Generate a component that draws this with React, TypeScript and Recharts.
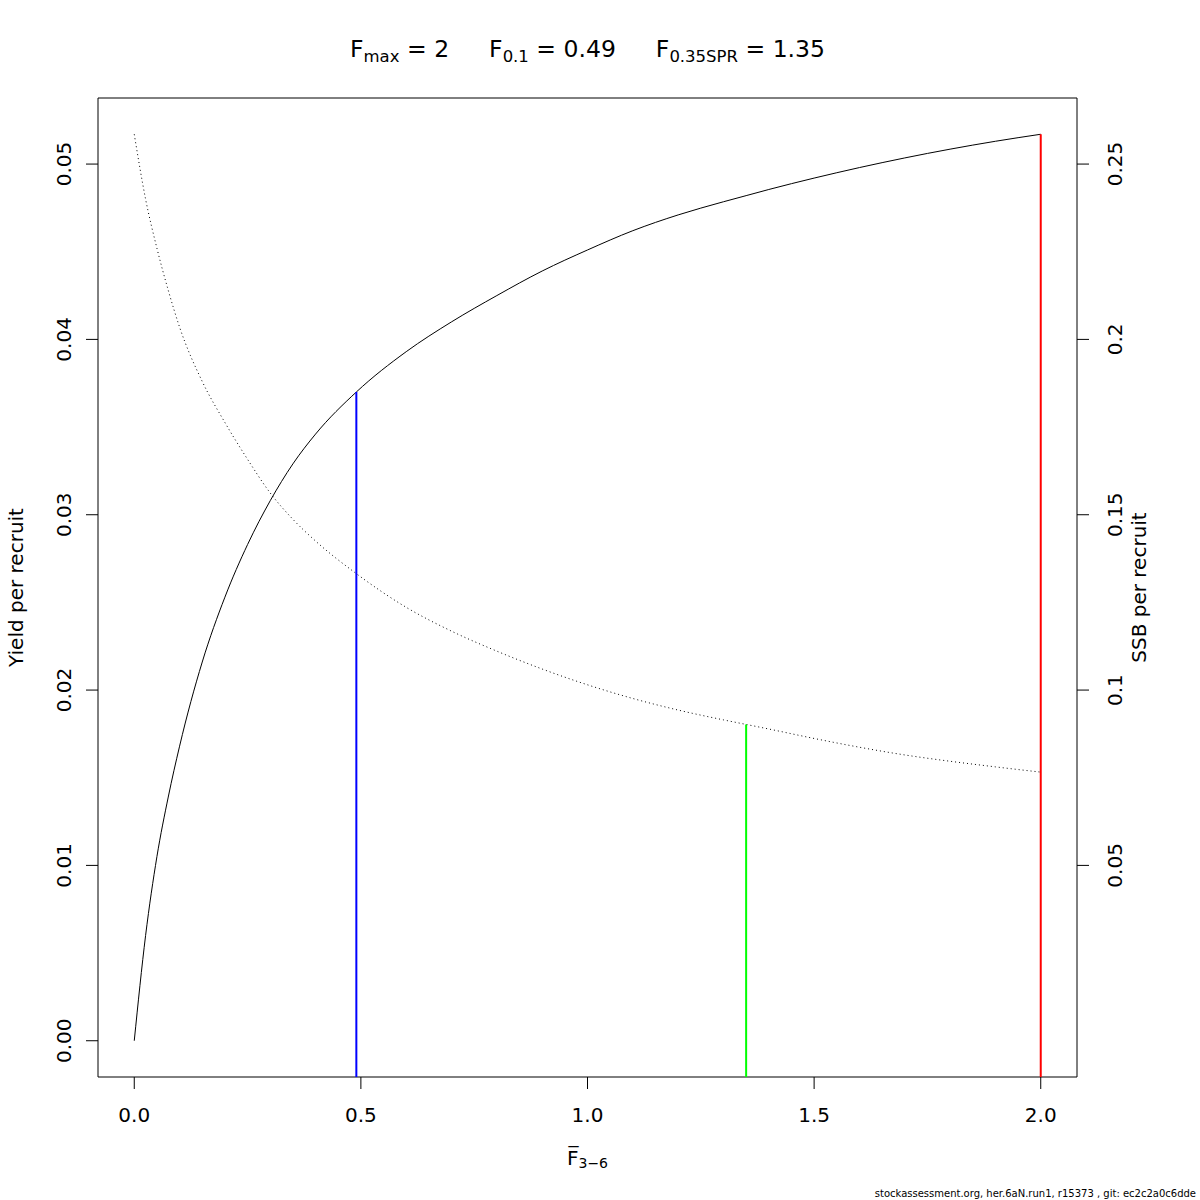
import React from 'react';
import { LineChart, Line, XAxis, YAxis, ReferenceLine, ReferenceArea } from 'recharts';

// fishing mortality grid and the per-recruit curves
const fbar = [0, 0.025, 0.05, 0.075, 0.1, 0.15, 0.2, 0.25, 0.3, 0.35, 0.4, 0.49, 0.6, 0.7, 0.8, 0.9, 1.0, 1.1, 1.2, 1.3, 1.35, 1.4, 1.5, 1.6, 1.7, 1.8, 1.9, 2.0];
const yieldPR = [0, 0.006, 0.0105, 0.0139, 0.0168, 0.0216, 0.0253, 0.0283, 0.0308, 0.0329, 0.0346, 0.037, 0.0393, 0.041, 0.0425, 0.0439, 0.0451, 0.0462, 0.0471, 0.04785, 0.0482, 0.04855, 0.0492, 0.0498, 0.05035, 0.05085, 0.0513, 0.0517];
const ssbPR = [0.2585, 0.24, 0.226, 0.214, 0.2035, 0.188, 0.1763, 0.1658, 0.1562, 0.1487, 0.1425, 0.1332, 0.1236, 0.1168, 0.1111, 0.106, 0.1015, 0.0976, 0.0943, 0.0915, 0.0902, 0.0889, 0.0862, 0.0837, 0.0815, 0.0797, 0.0781, 0.0766];

const fMax = 2;
const f01 = 0.49;
const f35spr = 1.35;

const xTicks = [0, 0.5, 1, 1.5, 2];
const xTickLabels = ['0.0', '0.5', '1.0', '1.5', '2.0'];
const yieldTicks = [0, 0.01, 0.02, 0.03, 0.04, 0.05];
const yieldTickLabels = ['0.00', '0.01', '0.02', '0.03', '0.04', '0.05'];
const ssbTicks = [0.05, 0.1, 0.15, 0.2, 0.25];
const ssbTickLabels = ['0.05', '0.1', '0.15', '0.2', '0.25'];

const data = fbar.map((f, i) => ({ f, yield: yieldPR[i], ssb: ssbPR[i] }));

const at = (arr: number[], f: number) => arr[fbar.indexOf(f)];

// R style 4% padding; the ssb axis is the yield axis rescaled so both maxima meet
const yMax = Math.max(...yieldPR);
const sMax = Math.max(...ssbPR);
const xDomain = [-0.08, 2.08];
const yDomain = [-0.04 * yMax, 1.04 * yMax];
const sDomain = [yDomain[0] * sMax / yMax, yDomain[1] * sMax / yMax];

const FONT = '"DejaVu Sans", sans-serif';
const PLOT_LEFT = 98;
const PLOT_RIGHT = 1077;
const PLOT_TOP = 98;
const PLOT_BOTTOM = 1077;

const XTick = (props: any) => {
  const i = xTicks.indexOf(props.payload.value);
  return (
    <text x={props.x} y={PLOT_BOTTOM + 45} textAnchor="middle" fontSize={20} fontFamily={FONT} fill="#000">
      {xTickLabels[i]}
    </text>
  );
};

const LeftTick = (props: any) => {
  const i = yieldTicks.indexOf(props.payload.value);
  const x = 71;
  return (
    <text x={x} y={props.y} transform={`rotate(-90, ${x}, ${props.y})`} textAnchor="middle" fontSize={20} fontFamily={FONT} fill="#000">
      {yieldTickLabels[i]}
    </text>
  );
};

const RightTick = (props: any) => {
  const i = ssbTicks.findIndex((t) => Math.abs(t - props.payload.value) < 1e-9);
  const x = 1122;
  return (
    <text x={x} y={props.y} transform={`rotate(-90, ${x}, ${props.y})`} textAnchor="middle" fontSize={20} fontFamily={FONT} fill="#000">
      {ssbTickLabels[i]}
    </text>
  );
};

export default function App() {
  const midX = (PLOT_LEFT + PLOT_RIGHT) / 2;
  const midY = (PLOT_TOP + PLOT_BOTTOM) / 2;
  return (
    <div style={{ position: 'absolute', top: 0, left: 0, width: 1200, height: 1200, background: '#fff' }}>
      <LineChart width={1200} height={1200} data={data} margin={{ top: PLOT_TOP, right: 0, bottom: 0, left: 0 }}>
        <XAxis
          dataKey="f"
          type="number"
          domain={xDomain}
          ticks={xTicks}
          height={1200 - PLOT_BOTTOM}
          axisLine={false}
          tickSize={12}
          tickLine={{ stroke: '#000' }}
          tick={<XTick />}
          interval={0}
        />
        <YAxis
          yAxisId="yield"
          type="number"
          domain={yDomain}
          ticks={yieldTicks}
          width={PLOT_LEFT}
          axisLine={false}
          tickSize={12}
          tickLine={{ stroke: '#000' }}
          tick={<LeftTick />}
          interval={0}
        />
        <YAxis
          yAxisId="ssb"
          orientation="right"
          type="number"
          domain={sDomain}
          ticks={ssbTicks}
          width={1200 - PLOT_RIGHT}
          axisLine={false}
          tickSize={12}
          tickLine={{ stroke: '#000' }}
          tick={<RightTick />}
          interval={0}
        />
        <ReferenceArea
          yAxisId="yield"
          x1={xDomain[0]}
          x2={xDomain[1]}
          y1={yDomain[0]}
          y2={yDomain[1]}
          fill="none"
          fillOpacity={0}
          stroke="#000"
          strokeWidth={1}
          ifOverflow="visible"
        />
        <Line yAxisId="yield" dataKey="yield" type="monotone" stroke="#000" strokeWidth={1} dot={false} isAnimationActive={false} />
        <Line yAxisId="ssb" dataKey="ssb" type="monotone" stroke="#000" strokeWidth={1} strokeDasharray="1 3" dot={false} isAnimationActive={false} />
        <ReferenceLine
          yAxisId="yield"
          segment={[{ x: f01, y: yDomain[0] }, { x: f01, y: at(yieldPR, f01) }]}
          stroke="#0000FF"
          strokeWidth={2}
          ifOverflow="visible"
        />
        <ReferenceLine
          yAxisId="ssb"
          segment={[{ x: f35spr, y: sDomain[0] }, { x: f35spr, y: at(ssbPR, f35spr) }]}
          stroke="#00FF00"
          strokeWidth={2}
          ifOverflow="visible"
        />
        <ReferenceLine
          yAxisId="yield"
          segment={[{ x: fMax, y: yDomain[0] }, { x: fMax, y: at(yieldPR, fMax) }]}
          stroke="#FF0000"
          strokeWidth={2}
          ifOverflow="visible"
        />
      </LineChart>
      <svg width={1200} height={1200} style={{ position: 'absolute', top: 0, left: 0, pointerEvents: 'none' }} fontFamily={FONT}>
        <text x={midX} y={57} textAnchor="middle" fontSize={23.5} fill="#000">
          <tspan>F</tspan>
          <tspan fontSize={16.5} dy={5}>max</tspan>
          <tspan dy={-5}> = 2</tspan>
          <tspan dx={40}>F</tspan>
          <tspan fontSize={16.5} dy={5}>0.1</tspan>
          <tspan dy={-5}> = 0.49</tspan>
          <tspan dx={40}>F</tspan>
          <tspan fontSize={16.5} dy={5}>0.35SPR</tspan>
          <tspan dy={-5}> = 1.35</tspan>
        </text>
        <text x={midX} y={1165} textAnchor="middle" fontSize={20} fill="#000">
          <tspan>{'F\u0305'}</tspan>
          <tspan fontSize={14} dy={3}>{'3\u22126'}</tspan>
        </text>
        <text x={23} y={midY} transform={`rotate(-90, 23, ${midY})`} textAnchor="middle" fontSize={20} fill="#000">
          Yield per recruit
        </text>
        <text x={1146} y={midY} transform={`rotate(-90, 1146, ${midY})`} textAnchor="middle" fontSize={20} fill="#000">
          SSB per recruit
        </text>
        <text x={1196} y={1197} textAnchor="end" fontSize={10} fill="#000">
          stockassessment.org, her.6aN.run1, r15373 , git: ec2c2a0c6dde
        </text>
      </svg>
    </div>
  );
}
